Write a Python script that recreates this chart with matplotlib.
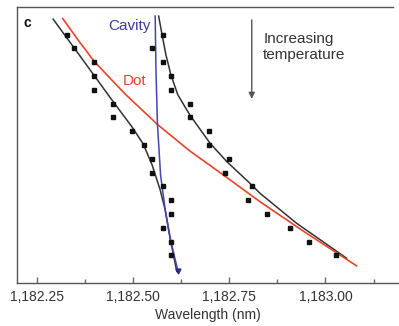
import numpy as np
import matplotlib
matplotlib.use("Agg")
import matplotlib.pyplot as plt
from matplotlib.ticker import FixedLocator, FuncFormatter

plt.rcParams['font.family'] = ['Liberation Sans', 'DejaVu Sans']

# temperature step (increases downwards), one per spectrum
steps = list(range(17))
# measured peak wavelengths (nm), lower and upper branch
lower_peaks = [1182.328, 1182.348, 1182.400, 1182.400, 1182.400, 1182.449, 1182.449,
               1182.499, 1182.528, 1182.549, 1182.549, 1182.579, 1182.599, 1182.599,
               1182.578, 1182.599, 1182.599]
upper_peaks = [1182.578, 1182.549, 1182.578, 1182.599, 1182.599, 1182.648, 1182.648,
               1182.699, 1182.699, 1182.750, 1182.739, 1182.809, 1182.800, 1182.848,
               1182.908, 1182.958, 1183.027]

# fitted curves
dot_wl = [1182.318, 1182.358, 1182.400, 1182.480, 1182.564, 1182.648, 1182.735,
          1182.830, 1182.934, 1183.081]
dot_t = [-1.159, 0.398, 1.955, 4.308, 6.517, 8.436, 10.174, 12.107, 14.084, 16.763]

cav_wl = [1182.558, 1182.560, 1182.564, 1182.572, 1182.584, 1182.599, 1182.617]
cav_t = [-1.340, 2.571, 6.553, 10.174, 12.708, 15.025, 17.125]

fit_lo_wl = [1182.293, 1182.363, 1182.441, 1182.498, 1182.527, 1182.550, 1182.571,
             1182.584, 1182.596, 1182.614]
fit_lo_t = [-1.122, 1.557, 4.562, 6.698, 7.929, 9.450, 11.260, 12.708, 14.663, 17.162]

fit_hi_wl = [1182.567, 1182.576, 1182.586, 1182.599, 1182.617, 1182.648, 1182.700,
             1182.744, 1182.804, 1182.830, 1182.925, 1183.055]
fit_hi_t = [-1.340, 0.036, 1.484, 2.933, 4.381, 5.829, 7.857, 9.211, 10.775, 11.499,
            13.671, 16.206]

major_ticks = [1182.25, 1182.50, 1182.75, 1183.00]
minor_ticks = [1182.375, 1182.625, 1182.875, 1183.125]

fig = plt.figure(figsize=(3.99, 3.26), dpi=100)
ax = fig.add_axes([0.0414, 0.132, 0.9586, 0.8466])

red = '#e8442a'
blue = '#4444b4'
dark = '#333333'

ax.plot(fit_lo_wl, fit_lo_t, color=dark, lw=1.1, zorder=2)
ax.plot(fit_hi_wl, fit_hi_t, color=dark, lw=1.1, zorder=2)
ax.plot(dot_wl, dot_t, color=red, lw=1.2, zorder=3)
ax.plot(cav_wl, cav_t, color=blue, lw=1.1, zorder=3)
ax.plot(cav_wl[-1], cav_t[-1], marker='v', ms=3.5, color='#2a2a80', zorder=4)

ax.plot(lower_peaks, steps, 's', ms=3.4, color='#111111', zorder=5)
ax.plot(upper_peaks, steps, 's', ms=3.4, color='#111111', zorder=5)

ax.set_xlim(1182.198, 1183.191)
ax.set_ylim(18, -2)

ax.xaxis.set_major_locator(FixedLocator(major_ticks))
ax.xaxis.set_minor_locator(FixedLocator(minor_ticks))
ax.xaxis.set_major_formatter(FuncFormatter(lambda v, p: '{:,.2f}'.format(v)))
ax.tick_params(axis='x', which='major', direction='in', length=4, width=1,
               color='#666666', labelsize=10, labelcolor=dark, pad=5)
ax.tick_params(axis='x', which='minor', direction='in', length=3, width=1,
               color='#666666')
ax.set_yticks([])
ax.spines['right'].set_visible(False)
for s in ['left', 'top', 'bottom']:
    ax.spines[s].set_color('#555555')
    ax.spines[s].set_linewidth(1.0)
ax.spines['top'].set_bounds(1182.198, 1183.175)

ax.set_xlabel('Wavelength (nm)', fontsize=10, color=dark, labelpad=3)

ax.text(0.027, 0.943, 'c', transform=ax.transAxes, fontsize=10, fontweight='bold',
        ha='center', va='center', color='#111111')
ax.text(1182.490, -0.615, 'Cavity', color='#3a3aa0', fontsize=11, ha='center', va='center')
ax.text(1182.504, 3.37, 'Dot', color=red, fontsize=11, ha='center', va='center')
ax.text(0.645, 0.855, 'Increasing\ntemperature', transform=ax.transAxes, fontsize=11,
        color=dark, ha='left', va='center', linespacing=1.15)
ax.annotate('', xy=(0.615, 0.667), xytext=(0.615, 0.953), xycoords='axes fraction',
            arrowprops=dict(arrowstyle='-|>', color='#555555', lw=1.0,
                            mutation_scale=9, shrinkA=0, shrinkB=0))

fig.savefig('out.png', dpi=100)
